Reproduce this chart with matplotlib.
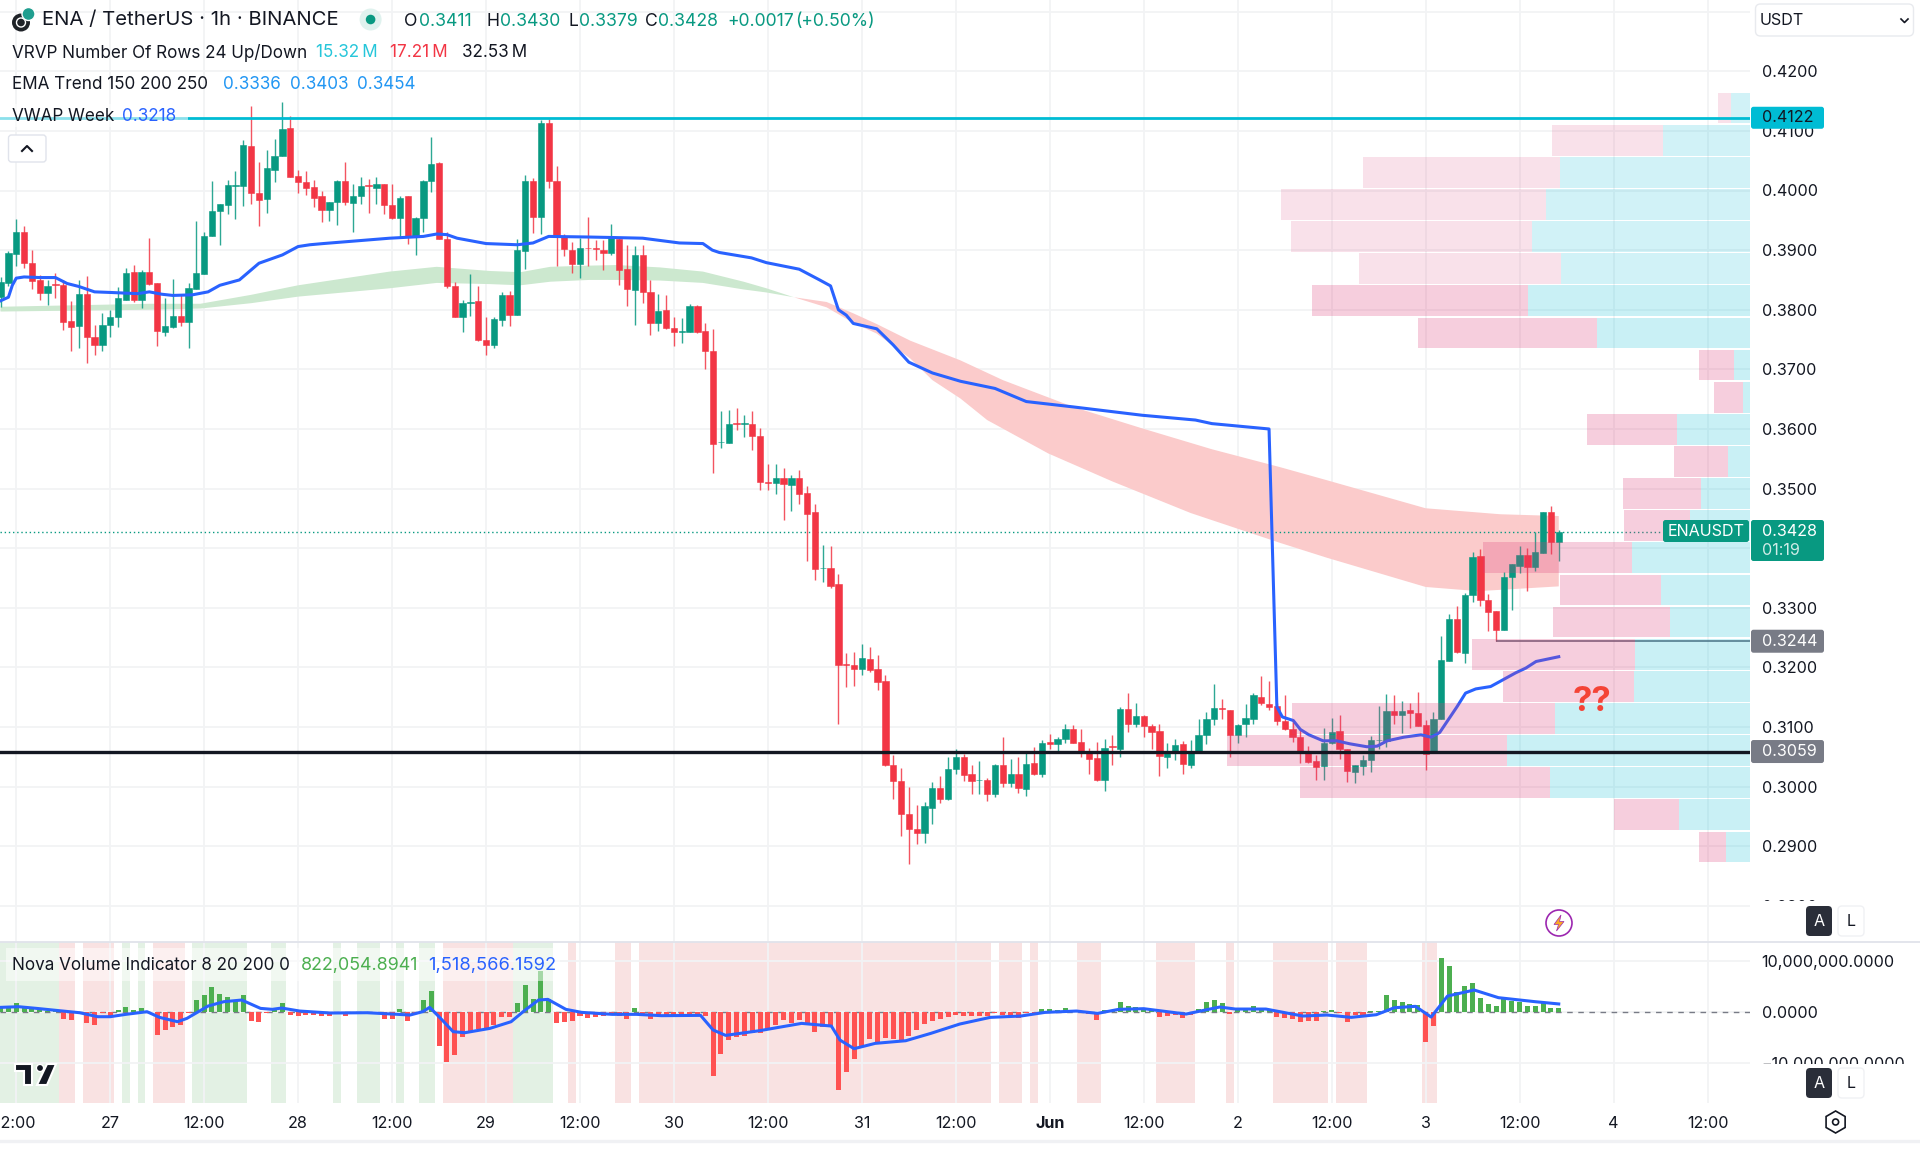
import numpy as np
import matplotlib
matplotlib.use("Agg")
import matplotlib.pyplot as plt
from matplotlib.patches import Rectangle, Circle, FancyBboxPatch, Polygon, RegularPolygon
from matplotlib.lines import Line2D

plt.rcParams['font.family'] = ['Inter', 'DejaVu Sans']

# ---- data: hourly candles, hours counted from 27 May 00:00, prices in 1e-4 USDT
first_hour = -14
opens = [3821,3845,3893,3931,3878,3850,3828,3843,3841,3781,
3772,3827,3755,3741,3774,3787,3817,3863,3816,3863,
3845,3763,3771,3790,3780,3835,3860,3924,3966,3976,
4008,4008,4075,3996,3985,4034,4058,4104,4024,4015,
4006,3990,3967,3980,4016,3979,3990,4009,4004,4011,
3975,3954,3990,3924,3954,4016,4046,3919,3840,3788,
3812,3814,3750,3741,3783,3825,3792,3899,4016,3956,
4113,4016,3924,3901,3876,3904,3903,3901,3896,3918,
3868,3833,3891,3830,3777,3800,3770,3763,3763,3806,
3764,3731,3578,3576,3610,3609,3609,3589,3511,3509,
3517,3506,3517,3492,3460,3366,3367,3340,3205,3204,
3197,3215,3197,3177,3037,3010,2955,2929,2922,2965,
2998,2979,3029,3050,3021,3011,3011,2987,3036,3006,
3022,2996,3039,3021,3075,3071,3080,3096,3075,3058,
3048,3012,3068,3064,3130,3105,3119,3102,3093,3050,
3057,3071,3036,3057,3086,3113,3132,3129,3086,3105,
3114,3151,3139,3135,3111,3097,3084,3057,3043,3034,
3073,3093,3063,3025,3035,3045,3078,3076,3127,3121,
3128,3124,3103,3056,3113,3210,3282,3225,3321,3387,
3313,3294,3263,3351,3371,3388,3369,3392,3460,3411]
highs = [3855,3899,3952,3941,3900,3858,3850,3862,3850,3814,
3850,3856,3774,3794,3800,3838,3870,3875,3867,3921,
3845,3819,3851,3825,3845,3949,3931,4016,3977,4018,
4032,4084,4141,4047,4068,4087,4148,4125,4034,4032,
4018,4000,3981,4018,4047,4011,4022,4019,4022,4011,
4011,3990,3991,3956,4018,4090,4048,3930,3846,3817,
3860,3839,3788,3788,3829,3832,3918,4026,4021,4118,
4120,4041,3927,3914,3920,3956,3917,3917,3943,3921,
3908,3907,3908,3850,3827,3824,3788,3786,3810,3808,
3777,3768,3630,3632,3636,3624,3630,3602,3542,3541,
3535,3523,3532,3504,3474,3405,3404,3357,3224,3226,
3240,3235,3221,3187,3053,3032,2999,2969,2975,3008,
3018,3050,3064,3055,3036,3043,3014,3038,3084,3047,
3050,3057,3066,3078,3088,3083,3106,3103,3096,3065,
3075,3080,3086,3133,3158,3140,3120,3106,3106,3074,
3080,3077,3078,3113,3125,3172,3147,3129,3106,3139,
3157,3186,3177,3140,3154,3109,3096,3068,3053,3099,
3116,3121,3063,3037,3053,3085,3136,3155,3153,3143,
3140,3159,3112,3125,3252,3290,3303,3325,3394,3399,
3323,3295,3360,3374,3404,3400,3428,3460,3471,3430]
lows = [3805,3839,3874,3870,3835,3817,3808,3819,3766,3730,
3736,3710,3724,3731,3755,3771,3817,3813,3803,3841,
3739,3756,3770,3772,3736,3835,3860,3924,3908,3960,
3953,3974,3977,3941,3962,4015,4058,4023,3996,3992,
3973,3947,3949,3942,3976,3930,3978,3963,3978,3961,
3952,3921,3911,3892,3931,3998,3918,3836,3787,3762,
3790,3747,3724,3735,3772,3773,3792,3869,3928,3927,
4005,3874,3890,3862,3853,3874,3883,3866,3892,3842,
3807,3775,3811,3757,3765,3767,3740,3745,3763,3761,
3700,3526,3568,3576,3598,3586,3564,3497,3498,3491,
3448,3462,3474,3378,3347,3343,3333,3106,3167,3169,
3187,3193,3162,3034,2980,2917,2870,2904,2905,2937,
2973,2978,3021,3009,2987,2987,2976,2983,2999,3000,
2989,2984,3019,3016,3064,3056,3073,3073,3049,3021,
3009,2992,3036,3049,3092,3100,3083,3064,3018,3031,
3045,3021,3031,3057,3072,3104,3114,3049,3074,3084,
3105,3137,3129,3104,3095,3075,3040,3040,3011,3011,
3072,3047,3008,3007,3020,3024,3063,3067,3105,3090,
3098,3101,3028,3056,3113,3210,3225,3208,3310,3303,
3261,3244,3263,3296,3359,3329,3362,3392,3391,3379]
closes = [3846,3895,3931,3878,3849,3828,3840,3841,3780,3771,
3826,3754,3741,3775,3788,3820,3862,3816,3863,3844,
3764,3773,3790,3780,3836,3861,3924,3966,3977,4009,
4009,4076,3996,3984,4037,4058,4103,4023,4014,4005,
3987,3967,3980,4016,3980,3991,4008,4007,4011,3975,
3954,3988,3924,3954,4016,4044,3919,3839,3788,3811,
3813,3749,3741,3784,3825,3792,3900,4016,3956,4113,
4016,3923,3902,3877,3903,3903,3902,3896,3921,3867,
3834,3891,3829,3778,3798,3769,3763,3764,3806,3763,
3731,3575,3579,3609,3609,3610,3588,3511,3510,3517,
3507,3517,3491,3457,3365,3367,3337,3204,3204,3197,
3216,3196,3176,3036,3009,2954,2929,2923,2967,2998,
2980,3030,3050,3019,3010,3012,2988,3036,3006,3022,
2997,3038,3021,3074,3071,3080,3096,3074,3057,3047,
3012,3065,3067,3130,3106,3119,3102,3092,3052,3058,
3070,3038,3058,3086,3114,3132,3131,3086,3104,3115,
3153,3140,3134,3111,3096,3083,3058,3042,3033,3074,
3092,3063,3026,3037,3045,3078,3079,3127,3121,3127,
3123,3102,3055,3114,3213,3282,3226,3322,3386,3313,
3293,3262,3351,3374,3388,3369,3393,3460,3411,3428]

# EMA band outline (hour, price in 1e-4)
green_hours = [-14,5,11.5,18,24,35.7,41.7,48.5,52.4,56.2,61.2,64.7,70.2,75.7,80.9,83.8,87.3]
green_upper = [3805,3810,3810,3825,3841,3864,3872,3865,3863,3872,3874,3875,3871,3864,3847,3836,3821]
green_lower = [3797,3800,3802,3811,3822,3836,3845,3843,3841,3847,3850,3850,3849,3845,3834,3829,3821]
red_up_hours = [87.3,91.5,94.9,97.9,102.2,108.6,114,123,131.8,140.7,149.4,155.4,168,177.5,185]
red_upper = [3821,3813,3794,3776,3748,3715,3682,3637,3601,3566,3536,3514,3467,3457,3454]
red_low_hours = [87.3,91.5,94.9,97.9,102.2,105,108.6,112,119.8,128,138,149.4,155.4,168,174.7,185]
red_lower = [3821,3804,3778,3760,3718,3682,3651,3615,3559,3512,3459,3409,3384,3335,3328,3336]

# Weekly VWAP
vwap_hours = [-14,-13,-12.5,-12,-11,-9,-7,-5.5,-4,-2,0,3.5,5,6.6,8,10.5,12.5,14,16.5,19,22,24,25.5,27.2,35.7,40,41.7,43,44.3,48,52,54,56,61,64.7,68,72.7,75.7,76.9,77.8,81.9,83.8,88,90.6,92,93,94,94.9,97.9,100,102,105,108.6,113,117,123,131.8,138.6,140.7,148,
149,149.7,151.1,152,153.1,154.9,156.6,158.3,160.5,161.8,163.1,165.2,167.4,168.7,169.8,172,173.1,174.4,176.3,177,179.5,180.8,182.1,185]
vwap = [3815,3821,3841,3853,3855,3854,3854,3844,3839,3830,3829,3827,3830,3826,3824,3825,3830,3841,3850,3878,3892,3906,3909,3911,3920,3923,3927,3926,3920,3911,3909,3912,3923,3922,3921,3920,3912,3911,3900,3896,3887,3879,3868,3850,3840,3800,3791,3777,3768,3741,3712,3694,3680,3668,3646,3637,3623,3615,3609,3600,
3134,3117,3111,3096,3087,3077,3077,3072,3067,3068,3077,3083,3087,3083,3091,3134,3157,3164,3168,3173,3191,3199,3210,3218]

# Visible-range volume profile, top row to bottom row (million, up and down)
profile_low, profile_high = 0.2872, 0.41652
vol_up = [.103,.482,1.057,1.134,1.212,1.048,1.231,.85,.087,.041,.404,.123,.275,.331,.653,.494,.442,.638,.646,1.086,1.351,1.111,.397,.131]
vol_down = [.077,.617,1.092,1.469,1.337,1.125,1.2,.993,.195,.157,.499,.301,.433,.368,.829,.564,.65,.909,.725,1.46,1.552,1.388,.361,.151]

# Horizontal price levels
level_high, level_support, level_low, last_price = 0.4122, 0.3059, 0.3244, 0.3428

# Nova volume histogram (million)
nova = [.85,.65,1.63,.85,.46,.33,.13,.13,-1.44,-1.63,-.2,-2.29,-2.55,-.33,-.85,.33,.85,.33,.72,-.13,
-4.58,-3.59,-2.94,-2.61,-.33,2.29,3.27,4.77,3.46,2.88,2.16,3.2,-1.76,-1.96,-.2,.46,1.63,-.65,-.78,-.59,
-.72,-.85,-.85,-.52,-.92,-.52,-.33,-.33,-.2,-1.37,-1.5,.46,-1.76,-.33,2.22,4.05,-6.67,-9.8,-8.5,-4.9,
-3.92,-3.46,-3.27,-2.61,-.98,-1.11,1.7,5.23,2.48,8.04,2.42,-2.16,-2.09,-1.9,-.85,-1.18,-.98,-.85,-.72,-.85,
-1.5,.65,-.52,-1.5,-.85,-.72,-.59,-.65,-.52,-.59,-.85,-12.55,-8.3,-5.56,-4.9,-4.77,-4.25,-4.25,-3.59,-2.61,
-1.63,-2.16,-1.63,-2.48,-3.92,-2.94,-2.81,-15.29,-11.76,-9.28,-6.86,-5.42,-6.01,-5.23,-5.42,-5.75,-4.77,-3.59,-2.48,-1.76,
-1.5,-1.11,-.65,-.85,-.92,-.85,-.85,-.33,-.65,-1.11,-1.31,-.33,-.46,.52,.46,.26,.72,.26,-.33,-.52,
-1.57,.26,.26,1.96,1.11,.85,.72,.46,-1.05,-.78,-.72,-1.24,-.59,.46,1.9,2.29,1.63,-.52,.33,.72,
1.11,.65,.59,-.98,-1.31,-1.37,-2.09,-1.9,-1.76,.07,.33,-.33,-2.09,-.72,-.85,.13,.13,3.27,2.22,1.83,
1.5,1.24,-6.01,-2.88,10.46,8.95,3.92,5.03,5.62,2.61,1.5,1.05,2.42,2.16,1.9,1.05,1.18,1.76,.78,.82]
signal_hours = [-14,-11.7,-9.4,-6.5,-3.9,-1.6,0,2,4.7,6.3,8.6,9.8,12.5,14.5,16.8,19.2,20.7,21.9,24.2,28.1,32.8,36,38.3,39.9,40.8,42.2,43.8,45.3,48.5,51.2,53,54.7,55.9,58.2,60.2,64.1,67.2,70.4,75.4,77,78.6,82.9,88.3,92.1,93.2,95,97.7,101.6,104.8,108.5,
112.4,116.3,119.4,123.4,126.1,128.8,132,137.4,141.7,143.7,147.6,152.3,155.4,158.5,161.7,164,166.7,168.7,170.8,174.2,177.3,182,185]
signal = [.85,.98,.65,.2,-.2,-.98,-.98,-.52,0,-1.11,-1.96,-1.31,1.11,1.96,2.29,.65,.46,.72,.13,-.26,-.2,-.46,-.65,0,.85,-1.31,-3.92,-4.12,-3.27,-1.96,.33,2.29,2.42,.46,-.13,-.52,-.52,-.78,-.72,-3.59,-4.64,-3.73,-2.29,-2.81,-5.56,-7.25,-6.21,-5.69,-4.25,-2.42,
-1.11,-.85,-.13,.13,-.33,.46,.59,-.46,.92,.52,.52,-.85,-.65,-1.11,-.59,.78,1.05,-1.05,3.07,4.25,2.75,1.96,1.52]

# Background state spans (first and last candle hour of each run)
green_spans = [(-14,-7),(2,2),(4,4),(11,17),(21,22),(29,29),(32,34),(37,37),(40,41),(52,56)]
red_spans = [(-6,-5),(-3,0),(6,9),(43,51),(59,59),(65,66),(68,112),(114,116),(118,118),(124,126),(134,138),(143,143),(149,155),(157,160),(168,169)]

# Time axis
tick_hours = list(range(-12, 205, 12))
tick_names = [' 2:00','27','12:00','28','12:00','29','12:00','30','12:00','31','12:00','Jun','12:00','2','12:00','3','12:00','4','12:00']
price_ticks = [0.28,0.29,0.30,0.31,0.32,0.33,0.34,0.35,0.36,0.37,0.38,0.39,0.40,0.41,0.42,0.43]
hidden_price_labels = (0.34, 0.43)
nova_ticks = [10e6, 0, -10e6]
nova_names = ['10,000,000.0000','0.0000','\u221210,000,000.0000']

# ---- layout
W, H = 1920, 1151
fig = plt.figure(figsize=(W/100, H/100), dpi=100, facecolor='white')
def box(x0, y0, x1, y1):
    return [x0/W, 1-y1/H, (x1-x0)/W, (y1-y0)/H]
PANE_R = 1750
ax = fig.add_axes(box(0, 0, PANE_R, 941))
ax2 = fig.add_axes(box(0, 942, PANE_R, 1103))
xlim = ((0-110.2)/7.83, (PANE_R-110.2)/7.83)
GREEN, RED = '#089981', '#f23645'
GRID = '#f2f3f5'
BLUE = '#2962ff'
TXT = '#131722'
FS = 11.6
FS_LEG = 12.3

hours = np.arange(first_hour, first_hour+len(opens))
o, h, l, c = [np.array(a)/1e4 for a in (opens, highs, lows, closes)]
cols = [GREEN if cc >= oo else RED for oo, cc in zip(o, c)]

# main pane
ax.set_xlim(*xlim)
YTOP, YBOT = 0.3+786.7/5962, 0.3-154.3/5962
ax.set_ylim(YBOT, YTOP)
ax.set_xticks(tick_hours); ax.tick_params(axis='x', length=0, labelbottom=False)
ax.set_yticks(price_ticks)
ax.set_yticklabels(['' if t in hidden_price_labels else f'{t:.4f}' for t in price_ticks], fontsize=FS, color=TXT)
ax.yaxis.tick_right()
ax.tick_params(axis='y', length=0, pad=8.3)
ax.grid(True, color=GRID, lw=1.3, zorder=0)
ax.set_axisbelow(True)
for s in ax.spines.values(): s.set_visible(False)

ax.fill(np.r_[green_hours, green_hours[::-1]], np.r_[green_upper, green_lower[::-1]]/np.float64(1e4),
        color='#cce8cf', lw=0, zorder=1)
ax.fill(np.r_[red_up_hours, red_low_hours[::-1]], np.r_[red_upper, red_lower[::-1]]/np.float64(1e4),
        color='#fbcbcb', lw=0, zorder=1)
ax.axhline(last_price, color=GREEN, lw=1, ls=(0, (1, 2)), zorder=1.5)
ax.vlines(hours, l, h, colors=cols, lw=1.0, zorder=2, alpha=.85)
ax.bar(hours, np.abs(c-o), bottom=np.minimum(o, c), width=0.8, color=cols, lw=0.4, edgecolor=cols, zorder=2.1)
ax.plot(vwap_hours, np.array(vwap)/1e4, color=BLUE, lw=2.2, zorder=3, solid_joinstyle='round')
ax.hlines(level_low, 177, xlim[1], color='#5d5f72', lw=1.1, zorder=3)

# volume profile on an overlay sharing the price scale
ax_v = ax.twiny()
PX_PER_M = 180
ax_v.set_xlim(PANE_R/PX_PER_M, 0)
ax_v.tick_params(axis='x', length=0, labeltop=False)
for s in ax_v.spines.values(): s.set_visible(False)
edges = np.linspace(profile_high, profile_low, len(vol_up)+1)
centers = (edges[:-1]+edges[1:])/2
step = abs(edges[1]-edges[0])
for i, (cy, u, dn) in enumerate(zip(centers, vol_up, vol_down)):
    light = i < 6
    ax_v.barh(cy, u, height=step*0.955, color=(0, 188/255, 212/255, .18 if light else .21), lw=0)
    ax_v.barh(cy, dn, left=u, height=step*0.955, color=(220/255, 60/255, 120/255, .15 if light else .25), lw=0)
ax_v.axhline(level_high, color='#00bcd4', lw=2)
ax_v.axhline(level_support, color='#131722', lw=2.4)

# indicator pane
ax2.set_xlim(*xlim)
ax2.set_ylim(-(1103-1011.7)/5.1*1e6, (1011.7-942)/5.1*1e6)
ax2.set_yticks(nova_ticks); ax2.set_yticklabels(nova_names, fontsize=FS, color=TXT)
ax2.yaxis.tick_right()
ax2.set_xticks(tick_hours)
ax2.set_xticklabels(tick_names, fontsize=FS, color=TXT)
for t, n in zip(ax2.get_xticklabels(), tick_names):
    if n == 'Jun': t.set_fontweight('bold')
ax2.tick_params(axis='both', length=0)
ax2.tick_params(axis='x', pad=9.6)
ax2.tick_params(axis='y', pad=8.3)
ax2.grid(True, color=GRID, lw=1.3, zorder=0)
ax2.set_axisbelow(True)
for s in ax2.spines.values(): s.set_visible(False)
for a, b in green_spans:
    ax2.axvspan(a-.5, b+.5, color='#e3f1e4', lw=0, zorder=0.5)
for a, b in red_spans:
    ax2.axvspan(a-.5, b+.5, color='#f9e2e2', lw=0, zorder=0.5)
ax2.axhline(0, color='#787b86', lw=1, ls=(0, (4, 4)), zorder=1)
nv = np.array(nova)*1e6
ax2.bar(hours, nv, width=0.64, color=['#4caf50' if v >= 0 else '#ff5252' for v in nv], lw=0, zorder=2)
ax2.plot(signal_hours, np.array(signal)*1e6, color=BLUE, lw=2.2, zorder=3)

# ---- chrome in pixel coordinates
ui = fig.add_axes([0, 0, 1, 1], zorder=10)
ui.set_xlim(0, W); ui.set_ylim(H, 0); ui.axis('off'); ui.patch.set_alpha(0)
def price_y(p):
    return (YTOP-p)/(YTOP-YBOT)*941
def T(x, y, s, color=TXT, fs=FS, **k):
    k.setdefault('va', 'center'); k.setdefault('ha', 'left')
    return ui.text(x, y, s, color=color, fontsize=fs, **k)

ui.add_patch(Rectangle((PANE_R, 901), W-PANE_R, 40, fc='white', lw=0, zorder=1))
ui.add_patch(Rectangle((PANE_R, 1063.5), W-PANE_R, 42, fc='white', lw=0, zorder=1))
ui.add_line(Line2D([0, W], [941.5, 941.5], color='#e0e3eb', lw=1.3))
ui.add_line(Line2D([0, W], [1141, 1141], color='#f0f1f4', lw=2.4))

# legends
ui.add_patch(Rectangle((0, 104), 188, 23, fc='white', alpha=.55, lw=0))
ui.add_patch(Rectangle((6, 948), 554, 33, fc='white', alpha=.5, lw=0))
ui.add_patch(Circle((21, 22.5), 9, fc='#1f2328', lw=0))
ui.add_patch(Circle((21, 22.5), 4.5, fc='none', ec='white', lw=1))
ui.add_patch(Circle((28.5, 14), 6.5, fc='#1f9e8f', ec='white', lw=1))
T(42, 20, 'ENA / TetherUS \u00b7 1h \u00b7 BINANCE', fs=14.6)
ui.add_patch(Circle((370.6, 19.5), 11, fc='#dff2ee', lw=0))
ui.add_patch(Circle((370.6, 19.5), 4.8, fc=GREEN, lw=0))
for x, s, col in [(404,'O',TXT),(419,'0.3411',GREEN),(486,'H',TXT),(500,'0.3430',GREEN),(568,'L',TXT),(579,'0.3379',GREEN),
                  (645,'C',TXT),(657.6,'0.3428',GREEN),(727,'+0.0017',GREEN),(795,'(+0.50%)',GREEN)]:
    T(x, 21, s, col, fs=12.7)
T(12, 52.5, 'VRVP Number Of Rows 24 Up/Down', fs=FS_LEG)
T(316, 52.5, '15.32\u2009M', '#26c6da', fs=FS_LEG); T(390, 52.5, '17.21\u2009M', RED, fs=FS_LEG); T(462, 52.5, '32.53\u2009M', fs=FS_LEG)
T(12, 84.3, 'EMA Trend 150 200 250', fs=FS_LEG)
T(223, 84.3, '0.3336', '#2196f3', fs=FS_LEG); T(290, 84.3, '0.3403', '#2196f3', fs=FS_LEG); T(357.5, 84.3, '0.3454', '#2196f3', fs=FS_LEG)
T(12, 116, 'VWAP Week', fs=FS_LEG); T(122, 116, '0.3218', BLUE, fs=FS_LEG)
T(12, 965, 'Nova Volume Indicator 8 20 200 0', fs=FS_LEG)
T(300.7, 965, '822,054.8941', '#4caf50', fs=12.9); T(428, 965, '1,518,566.1592', BLUE, fs=13.2)

def rbox(x0, y0, x1, y1, fc, ec='none', r=2.5, lw=0, z=3):
    ui.add_patch(FancyBboxPatch((x0+r, y0+r), x1-x0-2*r, y1-y0-2*r, boxstyle=f'round,pad={r}', fc=fc, ec=ec, lw=lw, zorder=z))

# collapse button
rbox(8.5, 135, 46, 162, 'white', '#e0e3eb', r=3, lw=1)
ui.add_line(Line2D([22, 27, 32], [151, 146, 151], color=TXT, lw=1.5, zorder=4))

# price tags
TAG0, TAG1 = 1751, 1824
y = price_y(level_high); rbox(TAG0, y-11, TAG1, y+11, '#00bcd4')
T(1761.7, y, f'{level_high:.4f}', TXT, zorder=5)
rbox(1663, 520, 1749, 542, GREEN); T(1706, 531, 'ENAUSDT', 'white', ha='center', zorder=5)
rbox(TAG0, 520, TAG1, 561, GREEN); T(1761.7, 531.5, f'{last_price:.4f}', 'white', zorder=5)
T(1761.7, 550, '01:19', '#d0ece7', zorder=5)
for p in (level_low, level_support):
    y = price_y(p); rbox(TAG0, y-11.5, TAG1, y+11.5, '#787b86')
    T(1761.7, y, f'{p:.4f}', 'white', zorder=5)

# currency select
rbox(1755.5, 4, 1913.5, 36, 'white', '#e8eaee', r=5, lw=1)
T(1760, 20.5, 'USDT', fs=FS, zorder=5)
ui.add_line(Line2D([1901, 1904.5, 1908], [19, 22.5, 19], color=TXT, lw=1.2, zorder=5))

# A / L buttons
for cy in (921, 1083):
    rbox(1806, cy-15, 1832, cy+15, '#2a2e39', r=4, z=4)
    T(1819, cy, 'A', 'white', ha='center', fs=FS, zorder=5)
    rbox(1838, cy-15, 1864, cy+15, 'white', '#f0f1f4', r=4, lw=1, z=4)
    T(1851, cy, 'L', TXT, ha='center', fs=FS, zorder=5)

# settings hexagon
ui.add_patch(RegularPolygon((1835.6, 1122), 6, radius=11, fc='none', ec=TXT, lw=1.2, orientation=0))
ui.add_patch(Circle((1835.6, 1122), 3, fc='none', ec=TXT, lw=1.2))

# lightning badge
ui.add_patch(Circle((1559, 923), 13, fc='white', ec='#9c27b0', lw=1.2))
ui.add_patch(Polygon([(1561, 915), (1554, 924.5), (1558.5, 924.5), (1556.5, 931), (1564, 921.5), (1559.5, 921.5)], fc='#f9a825', ec='#9c27b0', lw=.5))

# annotation
T(1592, 701.5, '??', '#f44336', fs=25, ha='center', fontweight='bold', zorder=5)

# TradingView mark
ui.add_patch(Polygon([(15,1064),(32,1064),(32,1085),(24,1085),(24,1071),(15,1071)], fc=TXT, ec='white', lw=1.5))
ui.add_patch(Circle((40, 1068), 3.6, fc=TXT, ec='white', lw=1))
ui.add_patch(Polygon([(47,1064),(56,1064),(47,1085),(37,1085)], fc=TXT, ec='white', lw=1.5))

fig.savefig('out.png', dpi=100, facecolor='white')
